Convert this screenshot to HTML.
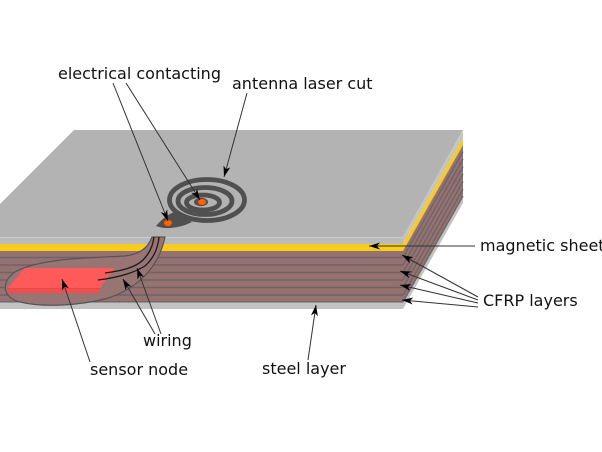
<!DOCTYPE html>
<html><head><meta charset="utf-8"><style>
html,body{margin:0;padding:0;background:#fff;}
svg{display:block;}
text{font-family:"DejaVu Sans","Liberation Sans",sans-serif;font-size:16px;fill:#111;}
</style></head><body>
<svg width="602" height="452" viewBox="0 0 602 452" xmlns="http://www.w3.org/2000/svg">
<defs>
<marker id="a" markerUnits="userSpaceOnUse" markerWidth="12" markerHeight="8" refX="11" refY="4" orient="auto">
<path d="M11,4 L0,0.5 L3,4 L0,7.5 Z" fill="#000"/>
</marker>
</defs>
<rect width="602" height="452" fill="#fff"/>

<!-- side face -->
<polygon points="403,237 463,131 463,138 403,244" fill="#c4c4c4"/>
<polygon points="403,244 463,138 463,145 403,251" fill="#f8cc1b"/>
<polygon points="403,251 463,145 463,196.5 403,302.5" fill="#957171"/>
<polygon points="403,302.5 463,196.5 463,203 403,309" fill="#c2c2c2"/>
<g stroke="#6f6464" stroke-width="1.3">
<line x1="403" y1="257.5" x2="463" y2="151.5"/>
<line x1="403" y1="265" x2="463" y2="159"/>
<line x1="403" y1="272.5" x2="463" y2="166.5"/>
<line x1="403" y1="280" x2="463" y2="174"/>
<line x1="403" y1="287.5" x2="463" y2="181.5"/>
<line x1="403" y1="295" x2="463" y2="189"/>
<line x1="403" y1="302" x2="463" y2="196"/>
</g>

<!-- top face -->
<polygon points="74,130 463,130 403,237 0,237 0,204" fill="#b3b3b3"/>
<line x1="462" y1="133" x2="404" y2="236" stroke="#c6c6c6" stroke-width="1"/>

<!-- front face -->
<rect x="0" y="237" width="403" height="7" fill="#bababa"/>
<line x1="0" y1="237.5" x2="403" y2="237.5" stroke="#cbcbcb" stroke-width="1"/>
<rect x="0" y="244" width="403" height="7" fill="#f8cc1b"/>
<rect x="0" y="251" width="403" height="51.5" fill="#957171"/>
<g stroke="#6f6464" stroke-width="1.4">
<line x1="0" y1="257.5" x2="403" y2="257.5"/>
<line x1="0" y1="265" x2="403" y2="265"/>
<line x1="0" y1="272.5" x2="403" y2="272.5"/>
<line x1="0" y1="280" x2="403" y2="280"/>
<line x1="0" y1="287.5" x2="403" y2="287.5"/>
<line x1="0" y1="295" x2="403" y2="295"/>
<line x1="0" y1="302" x2="403" y2="302"/>
</g>
<rect x="0" y="302.5" width="403" height="6.5" fill="#c2c2c2"/>

<!-- pocket -->
<path d="M152,237 C148,248 140,254 125,256 C90,258 40,258 15,272 C0,282 3,298 20,302 C45,308 80,305 105,299 C135,290 158,270 165,237 Z" fill="#987474" stroke="#555" stroke-width="1.2"/>
<!-- sensor node -->
<polygon points="8,288 100,288 100,293 8,293" fill="#f24e4e"/>
<polygon points="25,268 115,268 100,288 8,288" fill="#ff5a5a"/>
<line x1="8" y1="288.5" x2="101" y2="288.5" stroke="#e04848" stroke-width="0.8"/>
<!-- wires -->
<path d="M105,273 C120,271 135,268 143,260 C150,253 153,245 154,237" fill="none" stroke="#1a1a1a" stroke-width="1.3"/>
<path d="M98,280 C115,278 132,274 145,266 C154,258 158,248 159,237" fill="none" stroke="#1a1a1a" stroke-width="1.3"/>

<!-- antenna spiral -->
<g fill="none" stroke="#505050" stroke-width="4.8">
<ellipse cx="207" cy="200" rx="37.5" ry="20.5"/>
<ellipse cx="205" cy="201" rx="27" ry="13.5"/>
<ellipse cx="203" cy="202.5" rx="16.5" ry="7.5"/>
</g>
<ellipse cx="201" cy="202" rx="7" ry="4.2" fill="#505050"/>
<path d="M156,226 C161,220 167,215 174,212 L192,222 C180,228 166,230 156,226 Z" fill="#505050"/>
<ellipse cx="168" cy="223" rx="4" ry="3.2" fill="#ff6600" stroke="#c84000" stroke-width="0.6"/>
<ellipse cx="202" cy="202" rx="4" ry="3" fill="#ff6600" stroke="#c84000" stroke-width="0.6"/>

<!-- leader lines -->
<g stroke="#333" stroke-width="1" fill="none" marker-end="url(#a)">
<line x1="113" y1="83" x2="168" y2="221"/>
<line x1="126" y1="83" x2="200" y2="200"/>
<line x1="247" y1="93" x2="224" y2="177"/>
<line x1="475" y1="246" x2="369" y2="246"/>
<line x1="478" y1="297" x2="402" y2="255"/>
<line x1="478" y1="300" x2="400" y2="271"/>
<line x1="478" y1="303" x2="400" y2="285"/>
<line x1="478" y1="307" x2="402" y2="300"/>
<line x1="155" y1="334" x2="123" y2="279"/>
<line x1="161" y1="334" x2="137" y2="268"/>
<line x1="90" y1="362" x2="62" y2="279"/>
<line x1="308" y1="360" x2="316" y2="305"/>
</g>

<!-- labels -->
<text x="58" y="79">electrical contacting</text>
<text x="232" y="89">antenna laser cut</text>
<text x="480" y="251">magnetic sheet</text>
<text x="483" y="306">CFRP layers</text>
<text x="143" y="346">wiring</text>
<text x="90" y="375">sensor node</text>
<text x="262" y="374">steel layer</text>
</svg>
</body></html>
